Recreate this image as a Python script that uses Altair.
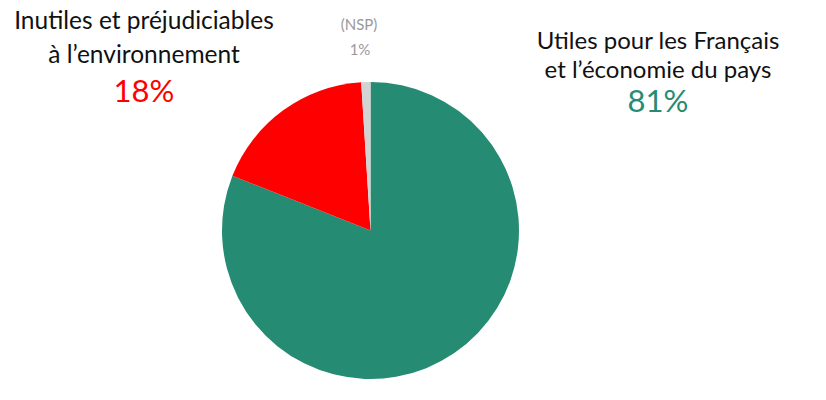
import altair as alt
import pandas as pd

categories = ["Utiles pour les Français et l’économie du pays", "Inutiles et préjudiciables à l’environnement", "(NSP)"]
values = [81, 18, 1]
colors = ["#268B73", "#FF0000", "#D3D3D3"]
order = [1, 2, 3]

left_lines = ["Inutiles et préjudiciables", "à l’environnement"]
left_pct = "18%"
right_lines = ["Utiles pour les Français", "et l’économie du pays"]
right_pct = "81%"
nsp_lines = ["(NSP)", "1%"]

df = pd.DataFrame({"cat": categories, "val": values, "ord": order})

TOP = 8
CX, CY, R = 362.5, 222.5 - TOP, 148.5
FONT = "Lato"

shadow = alt.Chart(pd.DataFrame({"val": [1]})).mark_arc(
    color="#888888", opacity=0.25, outerRadius=R + 1
).encode(theta=alt.Theta("val:Q"), x=alt.value(CX + 3), y=alt.value(CY + 3))

pie = alt.Chart(df).mark_arc(outerRadius=R, stroke=None).encode(
    theta=alt.Theta("val:Q", stack=True),
    order=alt.Order("ord:Q"),
    color=alt.Color("cat:N", scale=alt.Scale(domain=categories, range=colors), legend=None),
    x=alt.value(CX),
    y=alt.value(CY),
)

def txt(s, x, y, size, color):
    return alt.Chart(pd.DataFrame({"t": [s]})).mark_text(
        font=FONT, fontSize=size, color=color, align="center", baseline="alphabetic"
    ).encode(text="t:N", x=alt.value(x), y=alt.value(y - TOP))

layers = [shadow, pie,
          txt(left_lines[0], 136, 21, 24.5, "#111111"),
          txt(left_lines[1], 136, 55, 24.5, "#111111"),
          txt(left_pct, 136, 94, 31, "#FF0000"),
          txt(right_lines[0], 650, 41, 24, "#111111"),
          txt(right_lines[1], 650, 70, 24, "#111111"),
          txt(right_pct, 650, 104, 31, "#268B73"),
          txt(nsp_lines[0], 351, 22, 15, "#999999"),
          txt(nsp_lines[1], 352, 47, 15, "#999999")]

chart = alt.layer(*layers).properties(
    width=810, height=384 - TOP, autosize=alt.AutoSizeParams(type="none"),
    padding={"top": TOP, "left": 0, "right": 0, "bottom": 0}
).configure_view(stroke=None)

chart.save("out.html", embed_options={"renderer": "svg", "actions": False})
